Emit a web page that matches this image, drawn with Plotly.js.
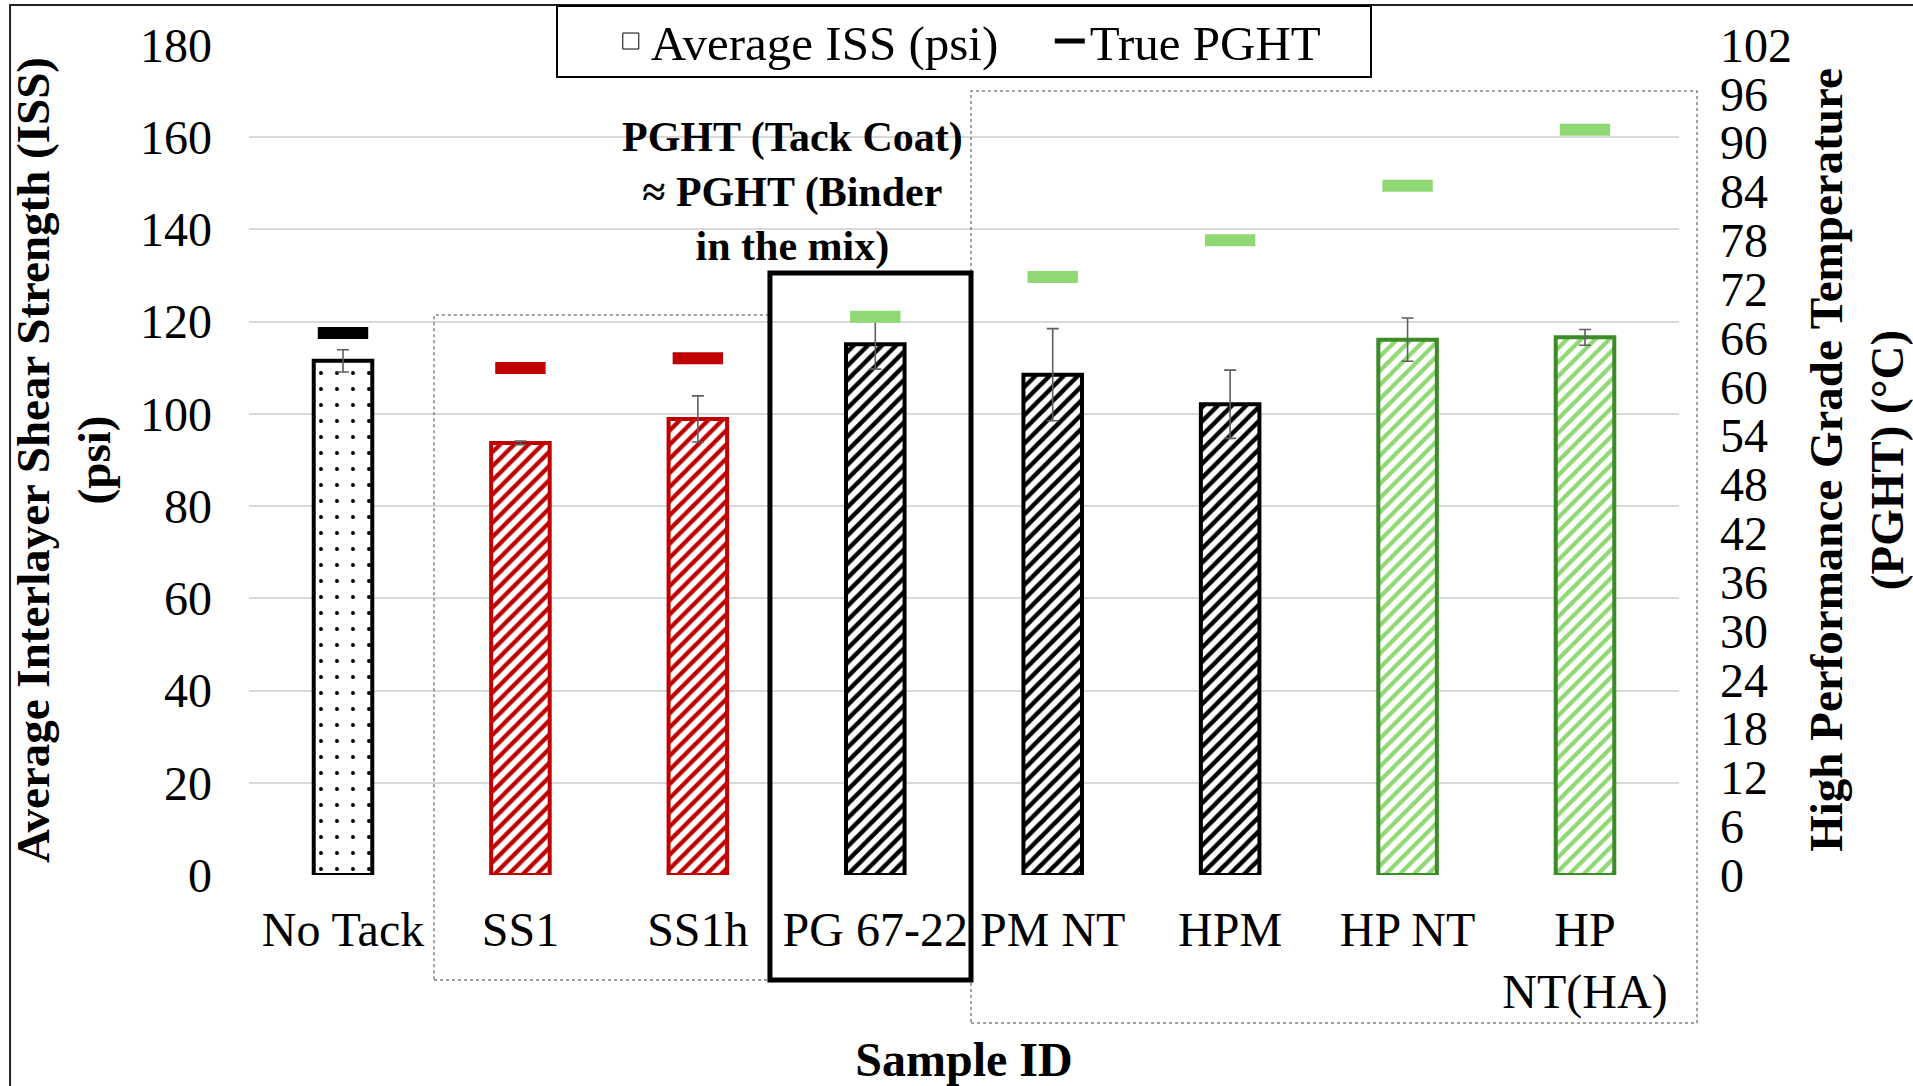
<!DOCTYPE html>
<html>
<head>
<meta charset="utf-8">
<script src="https://cdn.plot.ly/plotly-3.0.1.min.js"></script>
<style>html,body{margin:0;padding:0;background:#fff;}#chart{width:1913px;height:1086px;}</style>
</head>
<body>
<div id="chart"></div>
<script>
// ---- data ----
const categories = ['No Tack', 'SS1', 'SS1h', 'PG 67-22', 'PM NT', 'HPM', 'HP NT', 'HP NT(HA)'];
const tickLabels = ['No Tack', 'SS1', 'SS1h', 'PG 67-22', 'PM NT', 'HPM', 'HP NT', 'HP<br>NT(HA)'];
const issMean = [111.5, 93.7, 98.9, 115.1, 108.5, 102.1, 116.1, 116.6];   // psi
const issErr  = [2.4, 0.4, 5.0, 5.4, 10.0, 7.4, 4.7, 1.7];               // psi
const pghtTrue = [66.6, 62.3, 63.5, 68.6, 73.5, 78.0, 84.7, 91.6];       // °C
const leftTicks = [0, 20, 40, 60, 80, 100, 120, 140, 160, 180];
const rightTicks = [0, 6, 12, 18, 24, 30, 36, 42, 48, 54, 60, 66, 72, 78, 84, 90, 96, 102];

// ---- styles ----
const RED = '#C00000', BLACK = '#000000', DKGREEN = '#3C8A28', LTGREEN = '#8FD873';
const barBorder = [BLACK, RED, RED, BLACK, BLACK, BLACK, DKGREEN, DKGREEN];
const barHatch  = [BLACK, RED, RED, BLACK, BLACK, BLACK, LTGREEN, LTGREEN];
const barShape  = ['.', '/', '/', '/', '/', '/', '/', '/'];
const barSize   = [16, 10, 10, 10, 10, 10, 10, 10];
const barSolid  = [0.05, 0.42, 0.42, 0.45, 0.45, 0.45, 0.42, 0.42];
const dashColor = [BLACK, RED, RED, LTGREEN, LTGREEN, LTGREEN, LTGREEN, LTGREEN];
const FONT = 'Liberation Serif, Times New Roman, serif';

const traces = [
  {
    type: 'bar', x: categories, y: issMean, width: 0.33, showlegend: false,
    marker: {
      color: 'white',
      line: {color: barBorder, width: 4},
      pattern: {shape: barShape, fgcolor: barHatch, bgcolor: 'white', size: barSize, solidity: barSolid, fillmode: 'replace'}
    },
    error_y: {type: 'data', array: issErr, visible: true, color: '#5f5f5f', thickness: 1.6, width: 6},
    hoverinfo: 'x+y'
  },
  {
    type: 'scatter', mode: 'markers', x: categories, y: pghtTrue, yaxis: 'y2', showlegend: false,
    marker: {symbol: 'line-ew', size: 36, color: dashColor, line: {color: dashColor, width: 12}},
    hoverinfo: 'x+y'
  },
  // legend-only entries
  {
    type: 'scatter', mode: 'markers', x: [null], y: [null], name: 'Average ISS (psi)',
    marker: {symbol: 'square-open', size: 16, color: BLACK, line: {color: BLACK, width: 1}}
  },
  {
    type: 'scatter', mode: 'lines', x: [null], y: [null], name: 'True PGHT', yaxis: 'y2',
    line: {color: BLACK, width: 5}
  }
];

const layout = {
  width: 1913, height: 1086,
  margin: {l: 249, r: 234, t: 45, b: 211, pad: 0, autoexpand: false},
  paper_bgcolor: 'white', plot_bgcolor: 'white',
  font: {family: FONT, size: 48, color: 'black'},
  xaxis: {
    type: 'category', categoryorder: 'array', categoryarray: categories,
    tickvals: categories, ticktext: tickLabels,
    tickfont: {family: FONT, size: 48, color: 'black'},
    showgrid: false, zeroline: false, showline: false, ticks: '',
    ticklabelstandoff: 22,
    title: {text: 'Sample ID', font: {family: FONT, size: 48, weight: 700, color: 'black'}, standoff: 25},
    automargin: false
  },
  yaxis: {
    range: [0, 180], tickvals: leftTicks,
    tickfont: {family: FONT, size: 48, color: 'black'},
    showgrid: true, gridcolor: '#d9d9d9', gridwidth: 2,
    zeroline: false, showline: false, ticks: '',
    ticklabelstandoff: 36,
    title: {text: 'Average Interlayer Shear Strength (ISS)<br>(psi)', font: {family: FONT, size: 47, weight: 700, color: 'black'}, standoff: 14},
    automargin: false
  },
  yaxis2: {
    overlaying: 'y', side: 'right', range: [0, 102], tickvals: rightTicks,
    tickfont: {family: FONT, size: 48, color: 'black'},
    showgrid: false, zeroline: false, showline: false, ticks: '',
    ticklabelstandoff: 40,
    title: {text: 'High Performance Grade Temperature<br>(PGHT) (°C)', font: {family: FONT, size: 47, weight: 700, color: 'black'}, standoff: 20},
    automargin: false
  },
  legend: {
    orientation: 'h', x: 0.253, xanchor: 'left', y: 1.051, yanchor: 'top',
    bgcolor: 'rgba(0,0,0,0)', borderwidth: 0,
    font: {family: FONT, size: 49, color: 'black'},
    itemwidth: 30, traceorder: 'normal',
    entrywidth: 394, entrywidthmode: 'pixels'
  },
  annotations: [
    {
      xref: 'paper', yref: 'paper', x: 0.3804, y: 0.8229, xanchor: 'center', yanchor: 'middle',
      text: '<b>PGHT (Tack Coat)<br>≈ PGHT (Binder<br>in the mix)</b>', showarrow: false,
      font: {family: FONT, size: 42, color: 'black'}, align: 'center'
    }
  ],
  shapes: [
    // outer chart border
    {type: 'rect', xref: 'paper', yref: 'paper', x0: -0.1671, x1: 1.3, y0: -0.4, y1: 1.0482,
     line: {color: '#222', width: 2}, fillcolor: 'rgba(0,0,0,0)', layer: 'below'},
    // legend box
    {type: 'rect', xref: 'paper', yref: 'paper', x0: 0.2154, x1: 0.7846, y0: 0.9614, y1: 1.047,
     line: {color: '#000', width: 2}, fillcolor: 'white', layer: 'above'},
    // dotted group boxes
    {type: 'rect', xref: 'paper', yref: 'paper', x0: 0.1294, x1: 0.3643, y0: -0.1265, y1: 0.6747,
     line: {color: '#808080', width: 1.5, dash: 'dot'}, fillcolor: 'rgba(0,0,0,0)'},
    {type: 'rect', xref: 'paper', yref: 'paper', x0: 0.5049, x1: 1.0126, y0: -0.1783, y1: 0.9446,
     line: {color: '#808080', width: 1.5, dash: 'dot'}, fillcolor: 'rgba(0,0,0,0)'},
    // solid black highlight box
    {type: 'rect', xref: 'paper', yref: 'paper', x0: 0.3643, x1: 0.5049, y0: -0.1265, y1: 0.7253,
     line: {color: '#000', width: 5}, fillcolor: 'rgba(0,0,0,0)'}
  ]
};

Plotly.newPlot('chart', traces, layout, {displayModeBar: false, responsive: false});
</script>
</body>
</html>
